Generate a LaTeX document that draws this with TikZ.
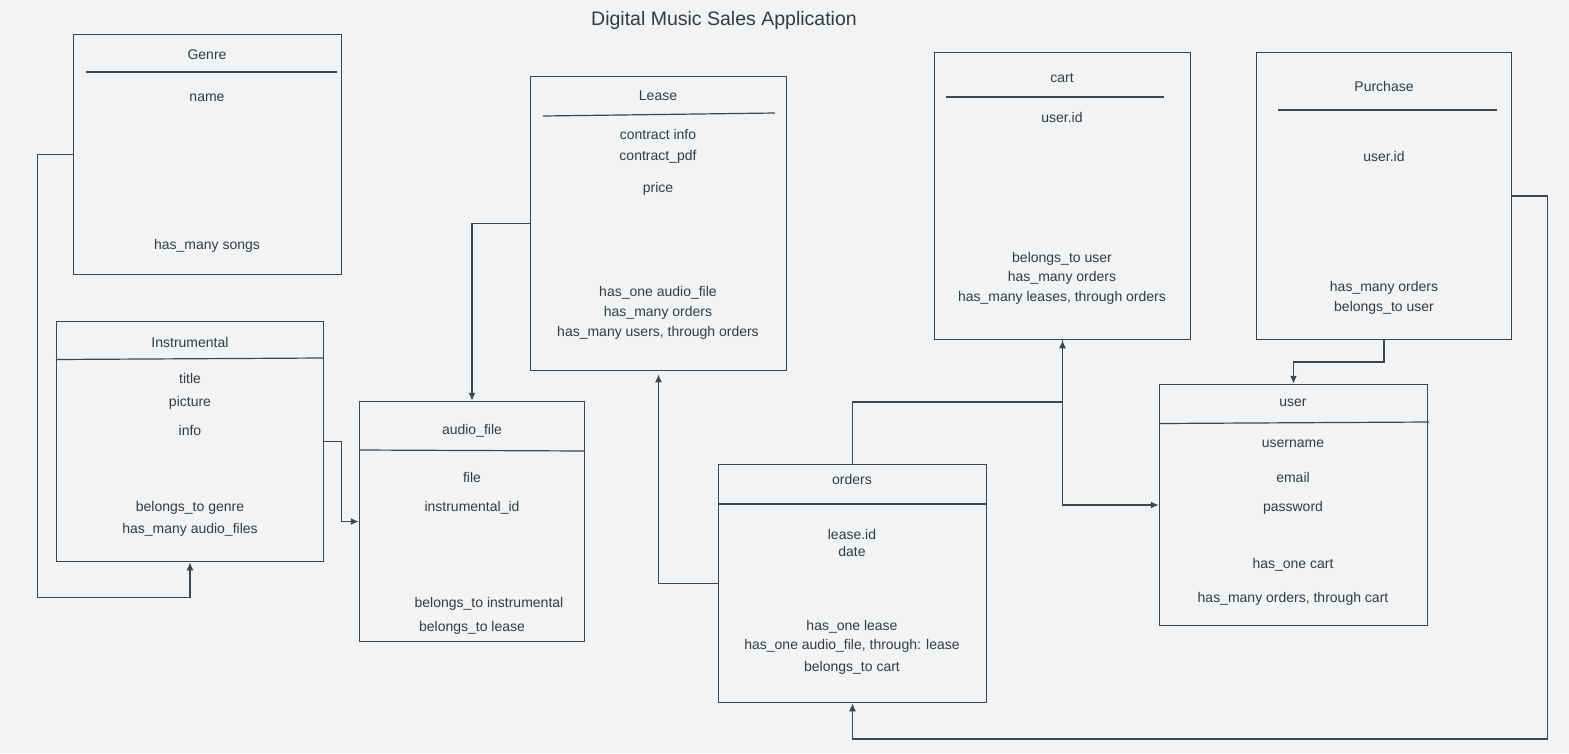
\documentclass[tikz,border=0pt]{standalone}
\usepackage{fontspec}
\setmainfont{Liberation Sans}
\usepackage{tikz}
\usetikzlibrary{arrows.meta,shapes}
\definecolor{bgcol}{HTML}{F1F3F5}
\definecolor{linecol}{HTML}{3C484D}
\definecolor{txtcol}{HTML}{323C41}

\begin{document}
\begin{tikzpicture}[x=1pt, y=-1pt, >={Latex[length=8pt,width=7pt]}]
		\tikzstyle{entity} = [rectangle, draw=linecol, line width=1.5pt, inner sep=0pt]
		\tikzstyle{field} = [text=txtcol, inner sep=0pt, yshift=-1.5pt, font=\fontsize{14}{16}\selectfont]
		\tikzstyle{rule} = [draw=linecol, line width=1.2pt]
		\tikzstyle{link} = [draw=linecol, line width=1.4pt, ->]
		\fill[bgcol] (0,0) rectangle (1569,753);
		\useasboundingbox (0,0) rectangle (1569,753);
		\node[text=txtcol, yshift=-1pt, font=\fontsize{19.5}{22}\selectfont] (title) at (724,19) {Digital Music Sales Application};
		% entities
		\node[entity, minimum width=268pt, minimum height=240pt] (genre) at (207.5,154.5) {};
		\node[entity, minimum width=267pt, minimum height=240pt] (instrumental) at (190,441.5) {};
		\node[entity, minimum width=225pt, minimum height=240pt] (audiofile) at (472,521.5) {};
		\node[entity, minimum width=256pt, minimum height=294pt] (lease) at (658.5,223.5) {};
		\node[entity, minimum width=256pt, minimum height=287pt] (cart) at (1062.5,196) {};
		\node[entity, minimum width=255pt, minimum height=287pt] (purchase) at (1384,196) {};
		\node[entity, minimum width=268pt, minimum height=241pt] (user) at (1293.5,505) {};
		\node[entity, minimum width=268pt, minimum height=238pt] (orders) at (852.5,583.5) {};
		% header rules
		\draw[rule] (86,72) -- (337,72);
		\draw[rule] (56,359.5) -- (323,358);
		\draw[rule] (359,450) -- (585,451);
		\draw[rule] (543,116) -- (775,113);
		\draw[rule] (946,97) -- (1164,97);
		\draw[rule] (1278,110) -- (1497,110);
		\draw[rule] (1160,423.5) -- (1429,422);
		\draw[rule] (718,504) -- (986,504);
		% fields
		\foreach \n/\y/\t in {1/53/Genre, 2/96/name, 3/244/has\_many songs}
			\node[field] (genre-\n) at (207,\y) {\t};
		\foreach \n/\y/\t in {1/341/Instrumental, 2/377/title, 3/401/picture, 4/429/info,
			5/506/belongs\_to genre, 6/528/has\_many audio\_files}
			\node[field] (instrumental-\n) at (190,\y) {\t};
		\foreach \n/\y/\t in {1/429/audio\_file, 2/476/file, 3/506/instrumental\_id}
			\node[field] (audiofile-\n) at (472,\y) {\t};
		\node[field] (audiofile-4) at (489,602) {belongs\_to instrumental};
		\node[field] (audiofile-5) at (472,626) {belongs\_to lease};
		\foreach \n/\y/\t in {1/94/Lease, 2/133/contract info, 3/155/contract\_pdf, 4/187/price,
			5/291/has\_one audio\_file, 6/311/has\_many orders, 7/331/{has\_many users, through orders}}
			\node[field] (lease-\n) at (658,\y) {\t};
		\foreach \n/\y/\t in {1/77/cart, 2/116/user.id, 3/257/belongs\_to user, 4/276/has\_many orders,
			5/296/{has\_many leases, through orders}}
			\node[field] (cart-\n) at (1062,\y) {\t};
		\foreach \n/\y/\t in {1/85/Purchase, 2/155/user.id, 3/286/has\_many orders, 4/306/belongs\_to user}
			\node[field] (purchase-\n) at (1384,\y) {\t};
		\foreach \n/\y/\t in {1/401/user, 2/442/username, 3/476/email, 4/506/password,
			5/563/has\_one cart, 6/597/{has\_many orders, through cart}}
			\node[field] (user-\n) at (1293,\y) {\t};
		\foreach \n/\y/\t in {1/478/orders, 2/533/lease.id, 3/550/date, 4/625/has\_one lease,
			5/644/{has\_one audio\_file, through: lease}, 6/666/belongs\_to cart}
			\node[field] (orders-\n) at (852,\y) {\t};
		% relations
		\coordinate (hub) at (1062.5,402);
		\draw[link] (genre.west) -| (37.5,597.5) -| (instrumental.south);
		\draw[link] (instrumental.east) -| (341.5,521.5) -- (audiofile.west);
		\draw[link] (lease.west) -| (audiofile.north);
		\draw[link, shorten >=3pt] (orders.west) -| (lease.south);
		\draw[link] (orders.north) |- (hub) -- (cart.south);
		\draw[link] (cart.south) |- (user.west);
		\draw[link] (purchase.south) -- (1384,362) -| (user.north);
		\draw[link] (purchase.east) -| (1547.5,739) -| (orders.south);
	\end{tikzpicture}
\end{document}
